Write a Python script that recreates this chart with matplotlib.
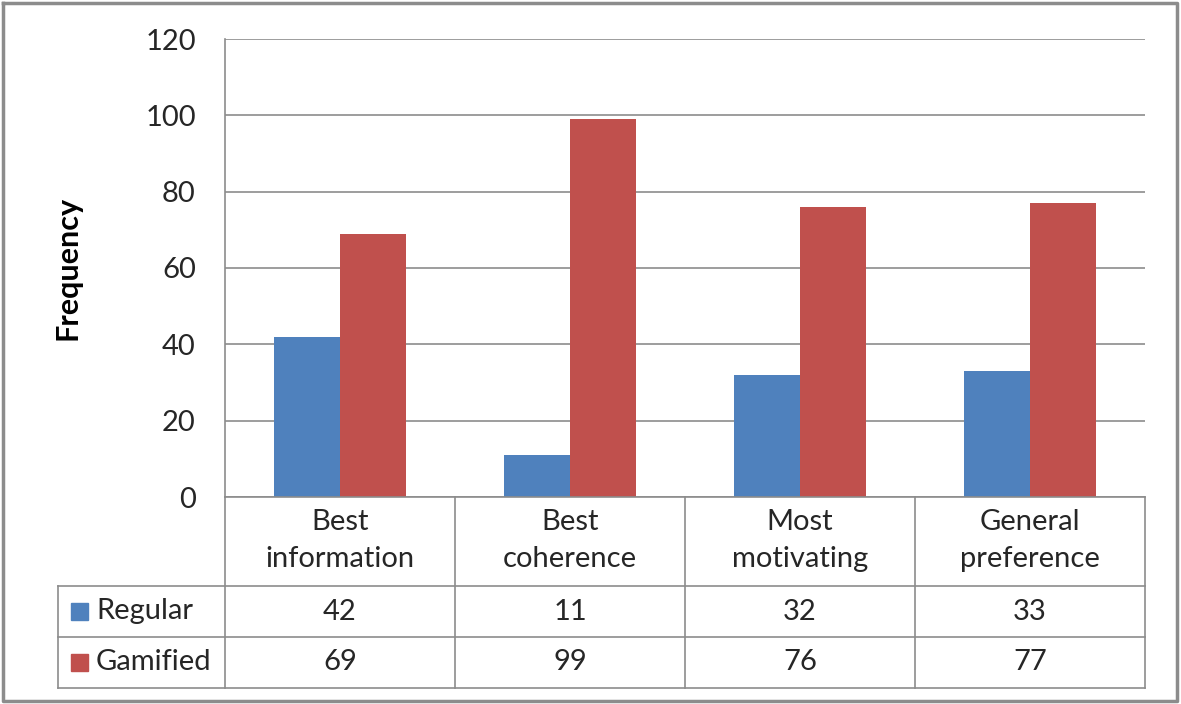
import matplotlib
matplotlib.use("Agg")
import matplotlib.pyplot as plt
import numpy as np

# data
categories = ["Best\ninformation", "Best\ncoherence", "Most\nmotivating", "General\npreference"]
series_names = ["Regular", "Gamified"]
regular = [42, 11, 32, 33]
gamified = [69, 99, 76, 77]
yticks = [0, 20, 40, 60, 80, 100, 120]

colors = ["#4F81BD", "#C0504D"]
grid_col = "#8C8C8C"
plt.rcParams["font.family"] = ["Lato", "DejaVu Sans"]
FS = 21

W, H = 1181, 704
fig = plt.figure(figsize=(W / 100, H / 100), dpi=100)

# pixel layout
px_l, px_r, px_t, px_b = 225, 1145, 39, 497
ax = fig.add_axes([px_l / W, 1 - px_b / H, (px_r - px_l) / W, (px_b - px_t) / H])

n = len(categories)
x = np.arange(n)
bw = 0.287
ax.bar(x - bw / 2, regular, bw, color=colors[0], zorder=3)
ax.bar(x + bw / 2, gamified, bw, color=colors[1], zorder=3)

ax.set_xlim(-0.5, n - 0.5)
ax.set_ylim(0, 120)
ax.set_yticks(yticks)
ax.set_yticklabels([str(v) for v in yticks], fontsize=FS, color="#262626")
ax.tick_params(axis="y", length=0, pad=21)
ax.set_xticks([])
ax.yaxis.grid(True, color=grid_col, linewidth=1.2, zorder=0)
for s in ["top", "right", "bottom"]:
    ax.spines[s].set_visible(False)
ax.spines["left"].set_color(grid_col)
ax.spines["left"].set_linewidth(1.2)
ax.set_ylabel("Frequency", fontsize=22, fontweight="bold", labelpad=46)

# overlay in pixel coords for the data table and frame
ov = fig.add_axes([0, 0, 1, 1], zorder=5)
ov.set_xlim(0, W)
ov.set_ylim(H, 0)
ov.axis("off")
ov.patch.set_alpha(0)

col_w = (px_r - px_l) / n
row_head_b, row1_b, row2_b = 586, 637, 688
tab_l = 58
lc = grid_col
lw = 1.2
# frame
ov.plot([3, 1177, 1177, 3, 3], [3, 3, 701, 701, 3], color="#8C8C8C", lw=2.5)
# horizontal lines
ov.plot([px_l, px_r], [px_b, px_b], color=lc, lw=lw)
for yy in [row_head_b, row1_b, row2_b]:
    ov.plot([tab_l, px_r], [yy, yy], color=lc, lw=lw)
# vertical lines
for i in range(n + 1):
    xx = px_l + i * col_w
    ov.plot([xx, xx], [px_b, row2_b], color=lc, lw=lw)
ov.plot([tab_l, tab_l], [row_head_b, row2_b], color=lc, lw=lw)

# category headers
for i, c in enumerate(categories):
    ov.text(px_l + (i + 0.5) * col_w, (px_b + row_head_b) / 2 - 1, c, ha="center", va="center",
            fontsize=FS, color="#262626", linespacing=1.55)

rows = [regular, gamified]
row_bounds = [(row_head_b, row1_b), (row1_b, row2_b)]
for r, (vals, (y0, y1)) in enumerate(zip(rows, row_bounds)):
    yc = (y0 + y1) / 2
    ov.add_patch(plt.Rectangle((71, yc - 9), 17, 17, color=colors[r]))
    ov.text(96, yc, series_names[r], ha="left", va="center", fontsize=FS, color="#262626")
    for i, v in enumerate(vals):
        ov.text(px_l + (i + 0.5) * col_w, yc, str(v), ha="center", va="center",
                fontsize=FS, color="#262626")

fig.savefig("out.png", dpi=100)
